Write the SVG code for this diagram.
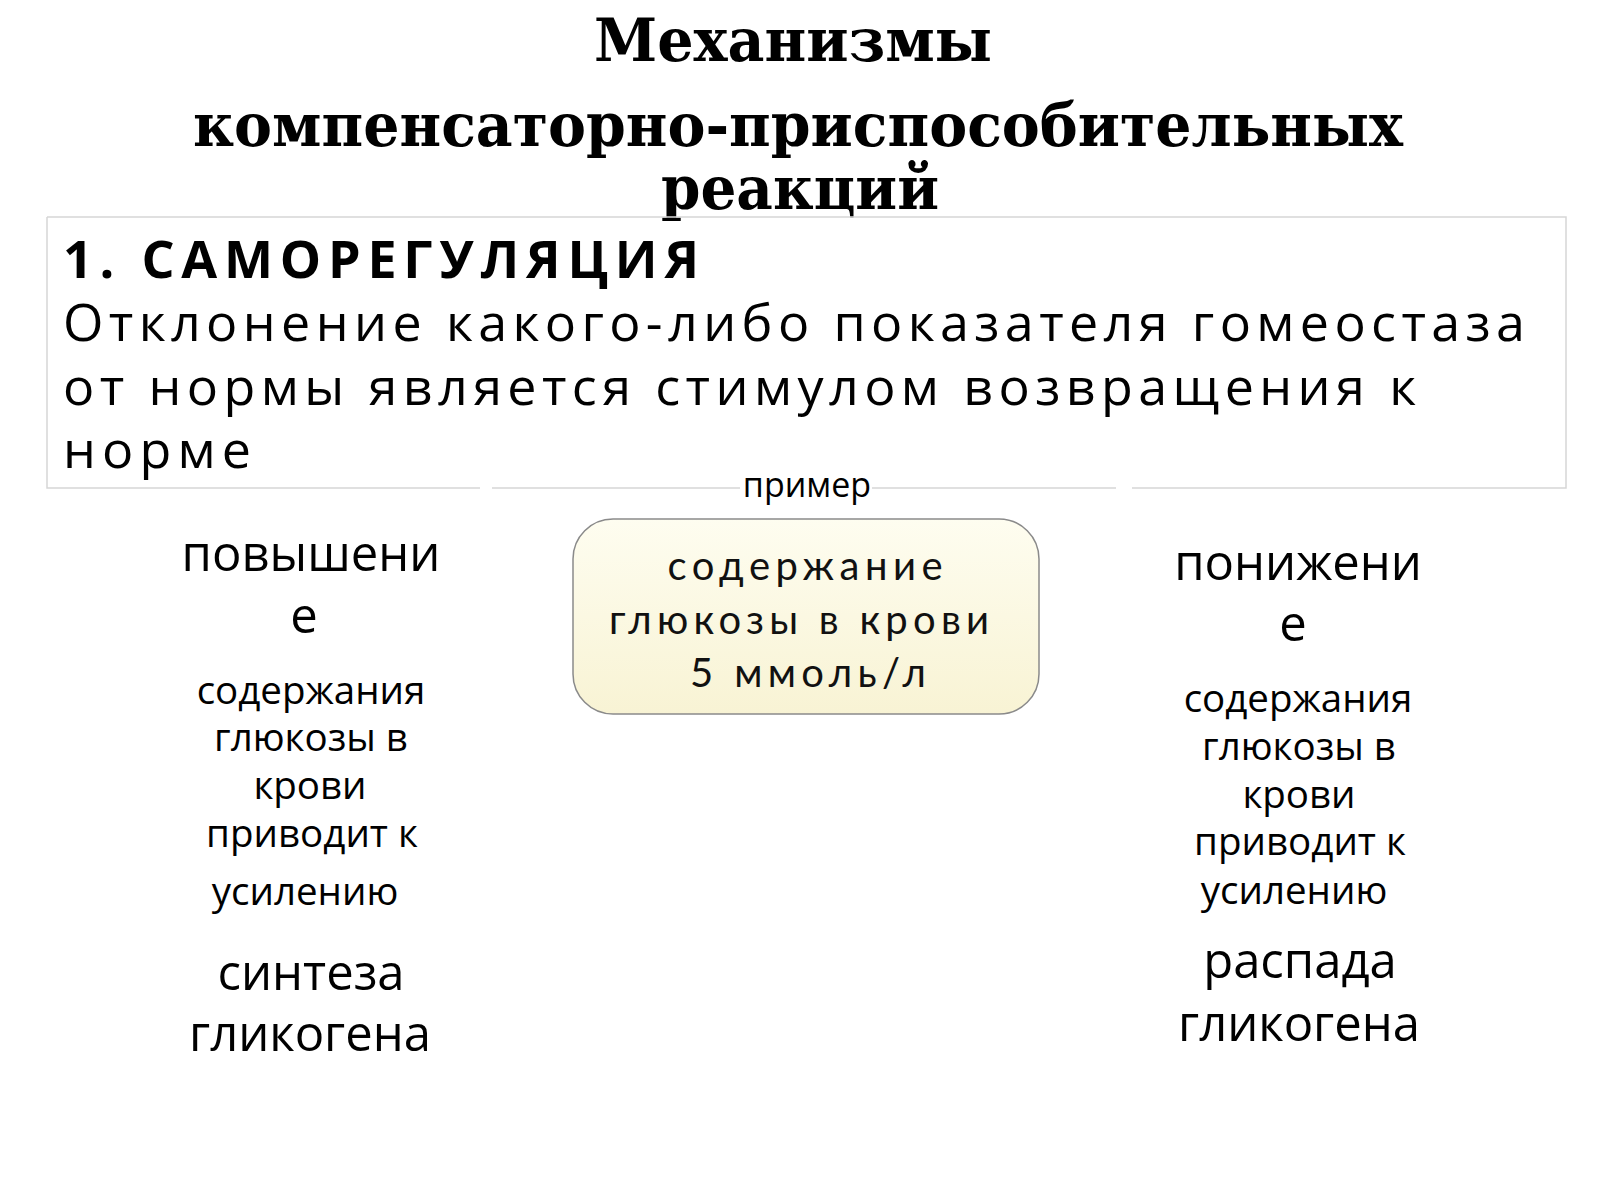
<svg xmlns="http://www.w3.org/2000/svg" width="1600" height="1200" viewBox="0 0 1600 1200">
  <defs>
    <linearGradient id="cream" x1="0" y1="0" x2="0" y2="1">
      <stop offset="0" stop-color="#fefdf0"/>
      <stop offset="1" stop-color="#f8f3d4"/>
    </linearGradient>
    <style>
      .title { font-family: "DejaVu Serif", "Liberation Serif", serif; font-weight: bold; font-size: 60px; fill: #000; text-anchor: middle; }
      .box { font-family: "Open Sans", "Noto Sans", sans-serif; font-size: 52px; fill: #000; }
      .boxb { font-weight: bold; }
      .ex { font-family: "Open Sans", "Noto Sans", sans-serif; font-size: 34px; fill: #000; text-anchor: middle; }
      .ctr { font-family: Lato, "Open Sans", sans-serif; font-size: 40px; fill: #111; text-anchor: middle; }
      .big { font-family: "Open Sans", "Noto Sans", sans-serif; font-size: 49px; fill: #000; text-anchor: middle; }
      .small { font-family: "Open Sans", "Noto Sans", sans-serif; font-size: 38.5px; fill: #000; text-anchor: middle; }
      .border { stroke: #d6d6d6; stroke-width: 1.5; fill: none; }
    </style>
  </defs>
  <rect x="0" y="0" width="1600" height="1200" fill="#ffffff"/>

  <g id="title">
    <text class="title" x="793" y="61" textLength="398" lengthAdjust="spacingAndGlyphs">Механизмы</text>
    <text class="title" x="798" y="146" textLength="1210" lengthAdjust="spacingAndGlyphs">компенсаторно-приспособительных</text>
    <text class="title" x="800" y="209" textLength="278" lengthAdjust="spacingAndGlyphs">реакций</text>
  </g>

  <g id="selfregulation">
    <path class="border" d="M47,217 H1566 V488 H1132 M1116,488 H872 M740,488 H492 M480,488 H47 V217"/>
    <text class="box boxb" x="63" y="278" textLength="636" lengthAdjust="spacing">1. САМОРЕГУЛЯЦИЯ</text>
    <text class="box" x="63" y="341" textLength="1462" lengthAdjust="spacing">Отклонение какого-либо показателя гомеостаза</text>
    <text class="box" x="63" y="405" textLength="1353" lengthAdjust="spacing">от нормы является стимулом возвращения к</text>
    <text class="box" x="63" y="468" textLength="188" lengthAdjust="spacing">норме</text>
  </g>

  <g id="example-label">
    <text class="ex" x="807" y="497">пример</text>
  </g>

  <g id="glucose-norm">
    <rect x="573" y="519" width="466" height="195" rx="40" ry="40" fill="url(#cream)" stroke="#8a8a8a" stroke-width="1.5"/>
    <text class="ctr" x="805" y="580" textLength="275" lengthAdjust="spacing">содержание</text>
    <text class="ctr" x="799" y="634" textLength="380" lengthAdjust="spacing">глюкозы в крови</text>
    <text class="ctr" x="808" y="687" textLength="236" lengthAdjust="spacing">5 ммоль/л</text>
  </g>

  <g id="increase">
    <text class="big" x="311" y="571">повышени</text>
    <text class="big" x="304" y="633">е</text>
    <text class="small" x="311" y="704">содержания</text>
    <text class="small" x="311" y="751">глюкозы в</text>
    <text class="small" x="310" y="799">крови</text>
    <text class="small" x="312" y="847">приводит к</text>
    <text class="small" x="305" y="905">усилению</text>
    <text class="big" x="311" y="990">синтеза</text>
    <text class="big" x="310" y="1051">гликогена</text>
  </g>

  <g id="decrease">
    <text class="big" x="1298" y="580">понижени</text>
    <text class="big" x="1293" y="641">е</text>
    <text class="small" x="1298" y="712">содержания</text>
    <text class="small" x="1299" y="760">глюкозы в</text>
    <text class="small" x="1299" y="808">крови</text>
    <text class="small" x="1300" y="855">приводит к</text>
    <text class="small" x="1294" y="904">усилению</text>
    <text class="big" x="1300" y="978">распада</text>
    <text class="big" x="1299" y="1041">гликогена</text>
  </g>

  <g id="connectors"/>
</svg>
